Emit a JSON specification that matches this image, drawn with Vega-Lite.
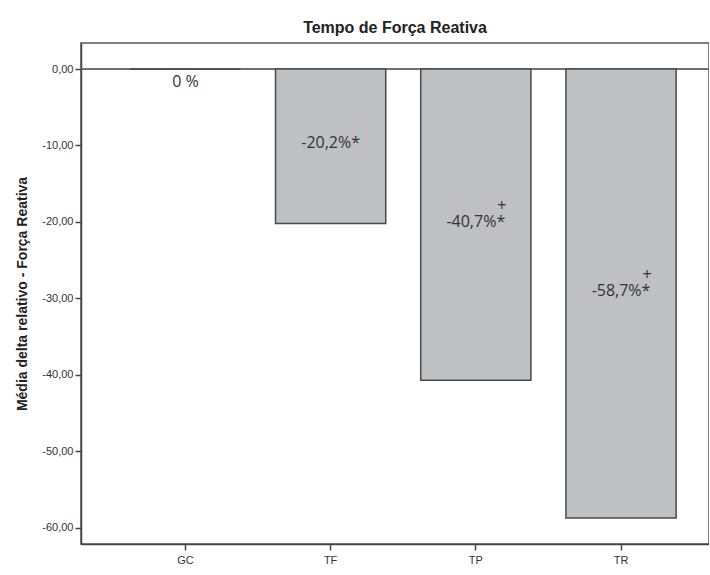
{
  "$schema": "https://vega.github.io/schema/vega-lite/v6.json",
  "autosize": {"type": "none"},
  "padding": {"left": 81, "top": 43, "right": 0, "bottom": 31},
  "width": 628,
  "height": 501,
  "background": "white",
  "title": {"text": "Tempo de Força Reativa", "font": "Liberation Sans", "fontSize": 16, "fontWeight": "bold", "color": "#222", "offset": 7},
  "config": {"view": {"stroke": "#555", "strokeWidth": 1.5}},
  "data": {"values": [
    {"grupo": "GC", "value": 0, "label": "0 %", "sig": ""},
    {"grupo": "TF", "value": -20.2, "label": "-20,2%*", "sig": ""},
    {"grupo": "TP", "value": -40.7, "label": "-40,7%*", "sig": "+"},
    {"grupo": "TR", "value": -58.7, "label": "-58,7%*", "sig": "+"}
  ]},
  "encoding": {
    "x": {"field": "grupo", "type": "nominal", "sort": null,
      "scale": {"paddingInner": 0.241, "paddingOuter": 0.283, "align": 0.6},
      "axis": {"title": null, "labelAngle": 0, "labelFont": "Liberation Sans", "labelFontSize": 11, "labelColor": "#333", "domainColor": "#444", "domainWidth": 1.5, "tickColor": "#444", "tickWidth": 1.5, "tickSize": 6, "labelPadding": 4}}
  },
  "layer": [
    {"mark": {"type": "rule", "color": "#666", "strokeWidth": 1}, "encoding": {"x": null, "y": {"datum": 0}}},
    {"mark": {"type": "bar", "fill": "#bfc0c4", "stroke": "#4a4a4a", "strokeWidth": 1.5},
      "encoding": {
        "y": {"field": "value", "type": "quantitative",
          "scale": {"domain": [-62.1, 3.4], "nice": false, "zero": false},
          "axis": {"values": [0, -10, -20, -30, -40, -50, -60], "grid": false,
            "labelExpr": "replace(replace(format(datum.value, '.2f'), '.', ','), '\u2212', '-')",
            "title": "Média delta relativo - Força Reativa", "titleFont": "Liberation Sans", "titleFontSize": 14, "titleFontWeight": "bold", "titleColor": "#222", "titlePadding": 12,
            "labelFont": "Liberation Sans", "labelFontSize": 11, "labelColor": "#333", "domainColor": "#444", "domainWidth": 1.5, "tickColor": "#444", "tickWidth": 1.5, "tickSize": 6, "labelPadding": 2}},
        "y2": {"datum": 0}
      }},
    {"transform": [{"calculate": "datum.value == 0 ? -2.1 : datum.value / 2", "as": "ly"}],
      "mark": {"type": "text", "font": "Open Sans", "fontSize": 16, "color": "#333", "baseline": "middle", "dy": -3},
      "encoding": {"y": {"field": "ly", "type": "quantitative"}, "text": {"field": "label"}}},
    {"transform": [{"calculate": "datum.value / 2", "as": "ly"}, {"filter": "datum.sig != ''"}],
      "mark": {"type": "text", "font": "Open Sans", "fontSize": 16, "color": "#333", "baseline": "bottom", "dx": 26, "dy": -11},
      "encoding": {"y": {"field": "ly", "type": "quantitative"}, "text": {"field": "sig"}}}
  ]
}
